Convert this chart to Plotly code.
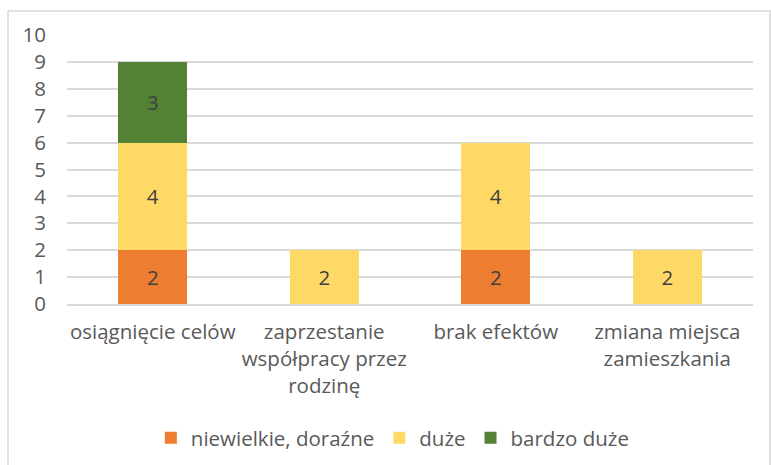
import plotly.graph_objects as go

categories = ["osiągnięcie celów", "zaprzestanie<br>współpracy przez<br>rodzinę", "brak efektów", "zmiana miejsca<br>zamieszkania"]
small = [2, None, 2, None]
large = [4, 2, 4, 2]
very_large = [3, None, None, None]
series_names = ["niewielkie, doraźne", "duże", "bardzo duże"]
y_ticks = list(range(0, 11))

colors = ["#ED7D31", "#FFD966", "#548235"]
FONT = "Open Sans"
FS = 20.5

fig = go.Figure()
for name, vals, col in zip(series_names, [small, large, very_large], colors):
    fig.add_trace(go.Bar(
        x=categories, y=vals, name=name, marker=dict(color=col, line=dict(width=0)),
        text=[str(v) if v else "" for v in vals], textposition="inside",
        insidetextanchor="middle", textfont=dict(family=FONT, size=FS, color="#404040"),
        cliponaxis=False,
    ))

fig.update_layout(
    width=771, height=465,
    barmode="stack", bargap=0.6,
    plot_bgcolor="white", paper_bgcolor="white",
    margin=dict(l=67, r=18, t=35, b=161, autoexpand=False),
    font=dict(family=FONT, size=FS, color="#595959"),
    uniformtext=dict(minsize=8, mode="show"),
    showlegend=True,
    legend=dict(orientation="h", x=0.475, xanchor="center", y=-0.498, yanchor="middle",
                font=dict(family=FONT, size=FS, color="#595959"), traceorder="normal",
                itemwidth=30),
    xaxis=dict(showgrid=False, showline=True, linecolor="#D9D9D9", linewidth=1.5,
               ticks="", tickfont=dict(family=FONT, size=FS, color="#595959"),
               ticklabelstandoff=9, automargin=False),
    yaxis=dict(range=[0, 10], tickvals=y_ticks, showgrid=True, gridcolor="#D9D9D9",
               gridwidth=1.5, zeroline=False, showline=False, ticks="",
               tickfont=dict(family=FONT, size=FS, color="#595959"), ticklabelstandoff=20,
               automargin=False),
)

fig.add_shape(type="rect", xref="paper", yref="paper",
              x0=(8 - 67) / 686, x1=(770 - 67) / 686, y0=-0.7, y1=(304 - 11) / 269,
              line=dict(color="#D9D9D9", width=1.5), layer="below")

fig.write_html("out.html", config={"displayModeBar": False},
               post_script="document.body.style.margin='0';document.body.style.overflow='hidden';")
